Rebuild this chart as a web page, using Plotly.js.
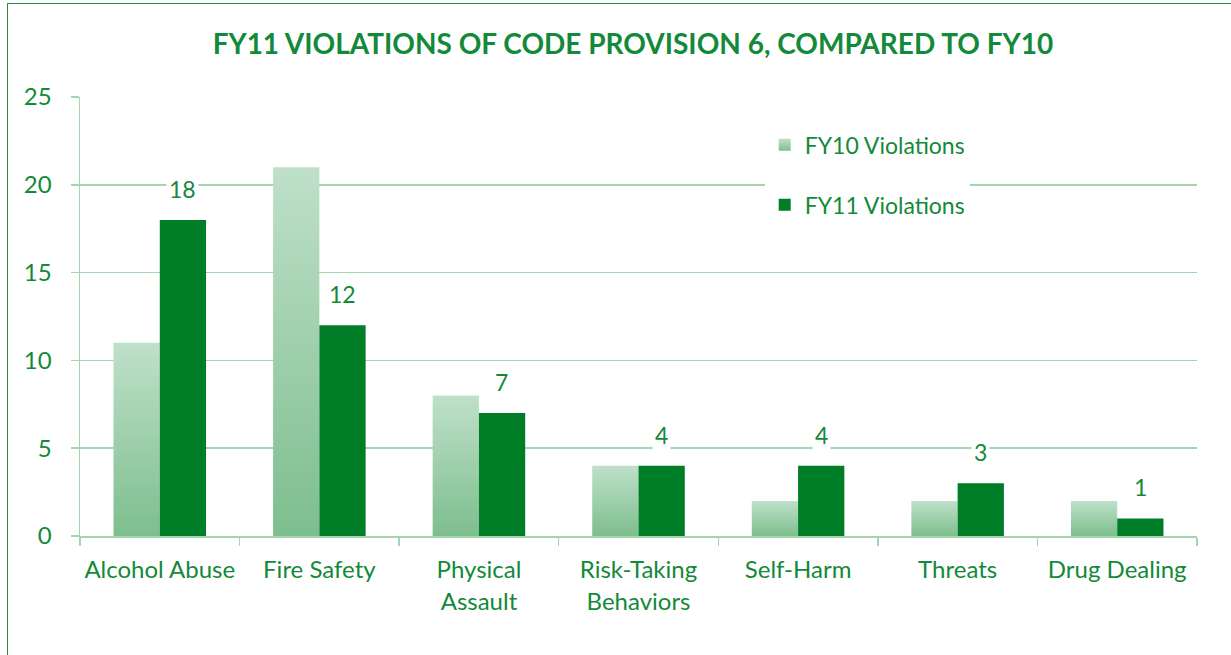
<!DOCTYPE html>
<html>
<head>
<meta charset="utf-8">
<script src="https://cdn.plot.ly/plotly-3.0.1.min.js"></script>
<style>
  html, body { margin: 0; padding: 0; background: #fff; overflow: hidden; }
  #frame { position: absolute; left: 7px; top: 3px; width: 1400px; height: 800px;
           border-left: 1.5px solid #2a8f44; border-top: 1.5px solid #2a8f44; }
  #chart { position: absolute; left: 0; top: 0; width: 1231px; height: 655px; }
</style>
</head>
<body>
<div id="frame"></div>
<div id="chart"></div>
<script>
const categories = ["Alcohol Abuse", "Fire Safety", "Physical<br>Assault", "Risk-Taking<br>Behaviors", "Self-Harm", "Threats", "Drug Dealing"];
const fy10Values = [11, 21, 8, 4, 2, 2, 2];
const fy11Values = [18, 12, 7, 4, 4, 3, 1];
const yTicks = [0, 5, 10, 15, 20, 25];

const GREEN_TEXT = '#13893a';
const DARK_BAR = '#007d27';
const GRID = '#a3d5b1';
const FONT = 'Lato, "Open Sans", sans-serif';

const traces = [
  { type: 'bar', name: 'FY10 Violations', x: categories, y: fy10Values,
    marker: { color: '#9fcfad', line: { width: 0 } }, legendgroup: 'a', hoverinfo: 'skip' },
  { type: 'bar', name: 'FY11 Violations', x: categories, y: fy11Values,
    marker: { color: DARK_BAR, line: { width: 0 } }, legendgroup: 'b', hoverinfo: 'skip' }
];

const annotations = categories.map((c, i) => ({
  x: c, y: fy11Values[i], xref: 'x', yref: 'y', text: String(fy11Values[i]),
  showarrow: false, xshift: 23, yshift: 31, yanchor: 'middle',
  bgcolor: '#ffffff', borderpad: 2,
  font: { family: FONT, size: 23, color: GREEN_TEXT }
}));

const layout = {
  width: 1231, height: 655,
  margin: { l: 80, r: 34, t: 97, b: 119 },
  paper_bgcolor: 'rgba(0,0,0,0)', plot_bgcolor: 'rgba(0,0,0,0)',
  title: { text: '<b>FY11 VIOLATIONS OF CODE PROVISION 6, COMPARED TO FY10</b>',
           font: { family: FONT, size: 28, color: GREEN_TEXT },
           x: 0.495, xanchor: 'center', y: 0.933, yanchor: 'middle', xref: 'paper' },
  barmode: 'group', bargap: 0.42, bargroupgap: 0,
  showlegend: true,
  legend: { x: 0.613, xanchor: 'left', y: 0.94, yanchor: 'top', bgcolor: '#ffffff',
            borderwidth: 0, font: { family: FONT, size: 23, color: GREEN_TEXT },
            traceorder: 'grouped', tracegroupgap: 27, itemwidth: 30 },
  xaxis: { type: 'category', showgrid: false, showline: true, linecolor: GRID, linewidth: 1.5,
           ticks: 'outside', tickson: 'boundaries', ticklen: 8, tickcolor: GRID, tickwidth: 1.5,
           ticklabelstandoff: 12, tickangle: 0, automargin: false,
           tickfont: { family: FONT, size: 24, color: GREEN_TEXT }, fixedrange: true },
  yaxis: { range: [0, 25], tickvals: yTicks, showgrid: true, gridcolor: GRID, gridwidth: 1.5,
           showline: true, linecolor: GRID, linewidth: 1.5, zeroline: false,
           ticks: 'outside', ticklen: 8, tickcolor: GRID, tickwidth: 1.5,
           ticklabelstandoff: 14,
           tickfont: { family: FONT, size: 24, color: GREEN_TEXT }, fixedrange: true },
  annotations: annotations,
  hovermode: false
};

function applyGradient(gd) {
  const svg = gd.querySelector('.main-svg');
  if (!svg) return;
  const ns = 'http://www.w3.org/2000/svg';
  let defs = svg.querySelector('defs');
  if (!defs) { defs = document.createElementNS(ns, 'defs'); svg.insertBefore(defs, svg.firstChild); }
  if (!svg.querySelector('#fy10grad')) {
    const g = document.createElementNS(ns, 'linearGradient');
    g.setAttribute('id', 'fy10grad');
    g.setAttribute('x1', '0'); g.setAttribute('y1', '0');
    g.setAttribute('x2', '0'); g.setAttribute('y2', '1');
    [['0', '#bfe0c9'], ['1', '#7dbe8e']].forEach(([o, c]) => {
      const s = document.createElementNS(ns, 'stop');
      s.setAttribute('offset', o); s.setAttribute('stop-color', c);
      g.appendChild(s);
    });
    defs.appendChild(g);
  }
  const barTraces = gd.querySelectorAll('.barlayer .trace.bars');
  if (barTraces[0]) barTraces[0].querySelectorAll('path').forEach(p => { p.style.fill = 'url(#fy10grad)'; });
  const legendTraces = gd.querySelectorAll('.legend .traces');
  if (legendTraces[0]) legendTraces[0].querySelectorAll('.legendpoints path').forEach(p => { p.style.fill = 'url(#fy10grad)'; });
}

const gd = document.getElementById('chart');
Plotly.newPlot(gd, traces, layout, { displayModeBar: false, staticPlot: true }).then(() => applyGradient(gd));
</script>
</body>
</html>
